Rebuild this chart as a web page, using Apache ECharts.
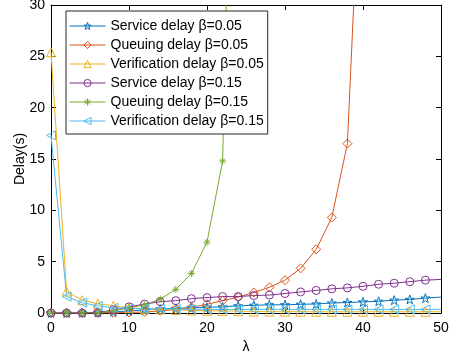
<!DOCTYPE html>
<html>
<head>
<meta charset="utf-8">
<script src="https://cdn.jsdelivr.net/npm/echarts@6/dist/echarts.min.js"></script>
<style>
  html, body { margin: 0; padding: 0; background: #fff; }
  #chart { width: 457px; height: 357px; }
</style>
</head>
<body>
<div id="chart"></div>
<script>
// arrival rate λ
const lambdas = [0, 2, 4, 6, 8, 10, 12, 14, 16, 18, 20, 22, 24, 26, 28, 30, 32, 34, 36, 38, 40, 42, 44, 46, 48, 50];

const serviceB005 = [0, 0, 0.02, 0.05, 0.1, 0.2, 0.3, 0.4, 0.45, 0.5, 0.55, 0.6, 0.7, 0.75, 0.8, 0.8, 0.85, 0.88, 0.97, 1.02, 1.08, 1.14, 1.25, 1.32, 1.45, 1.55];
const queuingB005 = [0, 0, 0, 0, 0.02, 0.05, 0.1, 0.2, 0.35, 0.55, 0.85, 1.2, 1.55, 2.0, 2.5, 3.2, 4.35, 6.2, 9.3, 16.5, 50, null, null, null, null, null];
const verifB005 = [25.4, 2.1, 1.25, 0.9, 0.7, 0.5, 0.42, 0.35, 0.3, 0.25, 0.22, 0.2, 0.18, 0.15, 0.14, 0.13, 0.13, 0.12, 0.12, 0.12, 0.12, 0.12, 0.12, 0.12, 0.12, 0.12];
const serviceB015 = [0, 0, 0, 0.05, 0.3, 0.6, 0.87, 1.1, 1.2, 1.4, 1.5, 1.6, 1.6, 1.7, 1.75, 1.9, 2.05, 2.2, 2.35, 2.45, 2.6, 2.8, 2.9, 3.05, 3.2, 3.27];
const queuingB015 = [0, 0, 0, 0, 0.2, 0.5, 0.8, 1.35, 2.3, 3.85, 6.9, 14.8, 80, null, null, null, null, null, null, null, null, null, null, null, null, null];
const verifB015 = [17.3, 1.6, 1.0, 0.7, 0.5, 0.45, 0.4, 0.4, 0.38, 0.36, 0.35, 0.35, 0.35, 0.35, 0.35, 0.35, 0.35, 0.35, 0.35, 0.35, 0.35, 0.35, 0.35, 0.35, 0.35, 0.35];

const seriesNames = [
  'Service delay β=0.05',
  'Queuing delay β=0.05',
  'Verification delay β=0.05',
  'Service delay β=0.15',
  'Queuing delay β=0.15',
  'Verification delay β=0.15'
];
const xTicks = { min: 0, max: 50, interval: 10 };
const yTicks = { min: 0, max: 30, interval: 5 };

const STAR = 'path://M5,0L6.2,3.6L10,3.6L6.9,5.9L8.1,9.5L5,7.3L1.9,9.5L3.1,5.9L0,3.6L3.8,3.6Z';
const ASTER = 'path://M0,5L10,5M5,0L5,10M1.5,1.5L8.5,8.5M1.5,8.5L8.5,1.5';
const TRI_LEFT = 'path://M0,5L9,0L9,10Z';

const chart = echarts.init(document.getElementById('chart'), null, { renderer: 'canvas' });

const mk = (name, values, color, symbol, size) => {
  const last = values.length - 1;
  return {
    name: name,
    type: 'line',
    data: values.map((v, i) => {
      const p = { value: [lambdas[i], v] };
      if (i === last) p.symbol = 'none'; // no marker at λ=50
      return p;
    }),
    symbol: symbol,
    symbolSize: size,
    showAllSymbol: true,
    connectNulls: false,
    clip: true,
    animation: false,
    lineStyle: { color: color, width: 1 },
    itemStyle: { color: 'rgba(255,255,255,0)', borderColor: color, borderWidth: 1 },
    emphasis: { disabled: true }
  };
};

const option = {
  animation: false,
  textStyle: { fontFamily: 'Liberation Sans, Arial, sans-serif' },
  grid: { left: 51, right: 16, top: 5, bottom: 44, containLabel: false, outerBoundsMode: 'none' },
  legend: {
    orient: 'vertical',
    left: 66,
    top: 11,
    width: 204,
    padding: [8, 4, 6, 3],
    itemWidth: 36,
    itemHeight: 9,
    itemGap: 5,
    borderColor: '#262626',
    borderWidth: 1,
    backgroundColor: '#fff',
    lineStyle: { width: 1 },
    itemStyle: { color: 'rgba(255,255,255,0)', borderColor: 'inherit', borderWidth: 1 },
    textStyle: { fontSize: 14, lineHeight: 14, color: '#000', fontFamily: 'Liberation Sans, Arial, sans-serif' },
    data: seriesNames
  },
  xAxis: [
    {
      type: 'value', min: xTicks.min, max: xTicks.max, interval: xTicks.interval,
      name: 'λ', nameLocation: 'middle', nameGap: 27, nameMoveOverlap: false,
      nameTextStyle: { fontSize: 14, color: '#000' },
      axisLine: { onZero: false, lineStyle: { color: '#000', width: 1 } },
      axisTick: { inside: true, length: 5, lineStyle: { color: '#000' } },
      axisLabel: { fontSize: 14, color: '#000', margin: 8 },
      splitLine: { show: false }
    },
    {
      type: 'value', position: 'top', min: xTicks.min, max: xTicks.max, interval: xTicks.interval,
      axisLine: { onZero: false, lineStyle: { color: '#000', width: 1 } },
      axisTick: { inside: true, length: 5, lineStyle: { color: '#000' } },
      axisLabel: { show: false },
      splitLine: { show: false }
    }
  ],
  yAxis: [
    {
      type: 'value', min: yTicks.min, max: yTicks.max, interval: yTicks.interval,
      name: 'Delay(s)', nameLocation: 'middle', nameGap: 24, nameMoveOverlap: false,
      nameTextStyle: { fontSize: 14, color: '#000' },
      axisLine: { show: true, onZero: false, lineStyle: { color: '#000', width: 1 } },
      axisTick: { show: true, inside: true, length: 5, lineStyle: { color: '#000' } },
      axisLabel: { fontSize: 14, color: '#000', margin: 6 },
      splitLine: { show: false }
    },
    {
      type: 'value', position: 'right', min: yTicks.min, max: yTicks.max, interval: yTicks.interval,
      axisLine: { show: true, onZero: false, lineStyle: { color: '#000', width: 1 } },
      axisTick: { show: true, inside: true, length: 5, lineStyle: { color: '#000' } },
      axisLabel: { show: false },
      splitLine: { show: false }
    }
  ],
  series: [
    mk(seriesNames[0], serviceB005, '#0072BD', STAR, 9),
    mk(seriesNames[1], queuingB005, '#D95319', 'diamond', 9),
    mk(seriesNames[2], verifB005, '#EDB120', 'triangle', 9),
    mk(seriesNames[3], serviceB015, '#7E2F8E', 'circle', 8),
    mk(seriesNames[4], queuingB015, '#77AC30', ASTER, 7),
    mk(seriesNames[5], verifB015, '#4DBEEE', TRI_LEFT, 9)
  ]
};

chart.setOption(option);
</script>
</body>
</html>
